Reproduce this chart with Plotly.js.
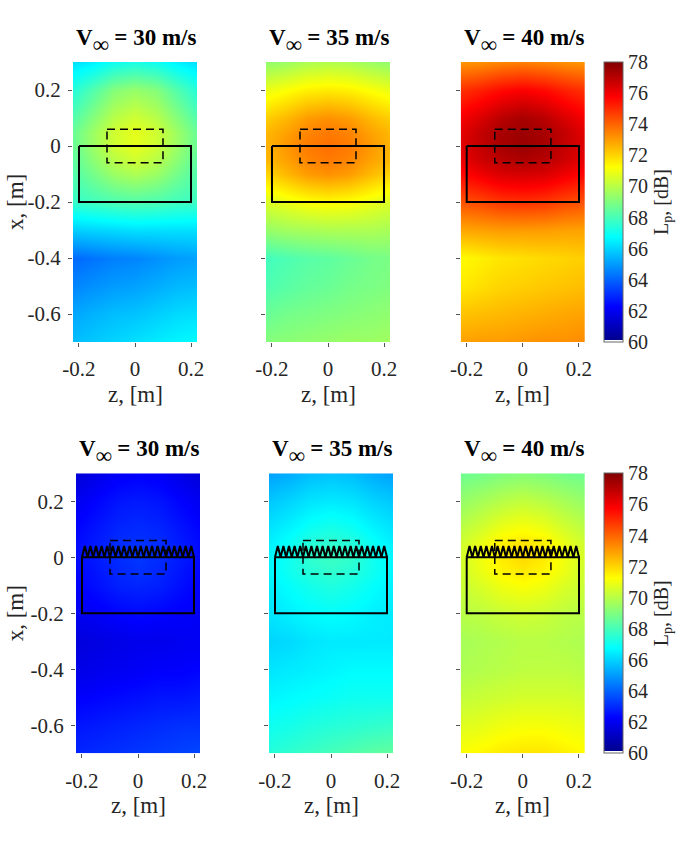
<!DOCTYPE html>
<html>
<head>
<meta charset="utf-8">
<script src="https://cdn.plot.ly/plotly-3.0.1.min.js"></script>
<style>html,body{margin:0;padding:0;background:#fff;}#chart{width:685px;height:841px;}</style>
</head>
<body>
<div id="chart"></div>
<script>
// ---------------- data ----------------
const speeds = ['30', '35', '40'];
const zCoords = [-0.22, -0.15, -0.075, 0, 0.075, 0.15, 0.22];                          // spanwise z [m]
const xCoords = [0.3, 0.2, 0.1, 0.05, 0, -0.05, -0.1, -0.2, -0.3, -0.4, -0.5, -0.6, -0.7]; // streamwise x [m]

const Lp_straight_30 = [
  [66.2, 66.5, 67.0, 67.2, 67.0, 66.5, 66.2],
  [67.4, 68.2, 69.1, 69.4, 69.1, 68.2, 67.4],
  [68.2, 69.1, 70.0, 70.4, 70.0, 69.1, 68.2],
  [68.6, 69.5, 70.4, 70.8, 70.4, 69.5, 68.6],
  [68.6, 69.5, 70.4, 70.8, 70.4, 69.5, 68.6],
  [68.4, 69.2, 70.0, 70.4, 70.0, 69.2, 68.4],
  [68.2, 68.8, 69.5, 69.8, 69.5, 68.8, 68.2],
  [67.7, 67.9, 68.1, 68.2, 68.1, 67.9, 67.8],
  [65.9, 66.0, 66.1, 66.2, 66.2, 66.2, 66.2],
  [64.1, 64.3, 64.5, 64.6, 64.8, 65.0, 65.1],
  [64.6, 64.8, 65.0, 65.1, 65.3, 65.5, 65.6],
  [65.2, 65.4, 65.6, 65.7, 65.9, 66.1, 66.2],
  [65.6, 65.8, 66.0, 66.2, 66.4, 66.6, 66.7]
];
const Lp_straight_35 = [
  [69.3, 69.5, 69.8, 69.9, 69.8, 69.5, 69.3],
  [70.9, 71.2, 71.5, 71.6, 71.5, 71.2, 70.9],
  [72.1, 72.5, 73.0, 73.2, 73.0, 72.5, 72.1],
  [72.5, 72.9, 73.4, 73.6, 73.4, 72.9, 72.5],
  [72.6, 73.1, 73.6, 73.8, 73.6, 73.1, 72.6],
  [72.5, 72.9, 73.4, 73.6, 73.4, 72.9, 72.5],
  [72.0, 72.5, 73.0, 73.2, 73.0, 72.5, 72.0],
  [70.6, 70.9, 71.2, 71.3, 71.2, 70.9, 70.6],
  [69.4, 69.6, 69.7, 69.8, 69.8, 69.8, 69.7],
  [67.9, 68.1, 68.3, 68.4, 68.6, 68.8, 68.9],
  [68.1, 68.3, 68.5, 68.6, 68.8, 68.9, 69.0],
  [68.6, 68.8, 68.9, 69.0, 69.1, 69.2, 69.3],
  [69.1, 69.2, 69.3, 69.4, 69.5, 69.5, 69.6]
];
const Lp_straight_40 = [
  [73.1, 73.2, 73.4, 73.5, 73.4, 73.2, 73.1],
  [74.9, 75.2, 75.6, 75.8, 75.6, 75.2, 74.9],
  [75.9, 76.4, 77.0, 77.3, 77.0, 76.4, 75.9],
  [76.2, 76.8, 77.3, 77.5, 77.3, 76.8, 76.2],
  [76.3, 76.8, 77.3, 77.5, 77.3, 76.8, 76.3],
  [76.1, 76.6, 77.0, 77.2, 77.0, 76.6, 76.1],
  [75.6, 76.0, 76.4, 76.5, 76.4, 76.0, 75.6],
  [74.3, 74.5, 74.8, 74.9, 74.8, 74.5, 74.3],
  [72.8, 72.9, 73.0, 73.0, 73.0, 72.9, 72.9],
  [71.3, 71.5, 71.7, 71.8, 71.9, 72.0, 72.1],
  [71.6, 71.8, 72.0, 72.1, 72.2, 72.3, 72.4],
  [72.3, 72.4, 72.5, 72.6, 72.7, 72.8, 72.9],
  [72.9, 73.0, 73.0, 73.1, 73.2, 73.2, 73.3]
];
const Lp_serrated_30 = [
  [61.5, 61.8, 62.1, 62.2, 62.1, 61.8, 61.5],
  [62.0, 62.3, 62.6, 62.7, 62.6, 62.3, 62.0],
  [62.3, 62.6, 62.9, 63.0, 62.9, 62.6, 62.3],
  [62.4, 62.7, 63.0, 63.1, 63.0, 62.7, 62.4],
  [62.4, 62.7, 63.0, 63.2, 63.0, 62.7, 62.4],
  [62.3, 62.6, 62.9, 63.1, 62.9, 62.6, 62.3],
  [62.2, 62.5, 62.8, 62.9, 62.8, 62.5, 62.2],
  [62.0, 62.1, 62.3, 62.4, 62.3, 62.2, 62.1],
  [61.6, 61.7, 61.8, 61.9, 61.9, 62.0, 62.0],
  [61.8, 61.9, 62.0, 62.1, 62.2, 62.2, 62.3],
  [62.2, 62.3, 62.4, 62.5, 62.6, 62.6, 62.7],
  [62.6, 62.7, 62.8, 62.9, 63.0, 63.1, 63.1],
  [62.9, 63.0, 63.1, 63.2, 63.3, 63.4, 63.5]
];
const Lp_serrated_35 = [
  [65.1, 65.3, 65.6, 65.7, 65.6, 65.3, 65.1],
  [65.8, 66.0, 66.3, 66.4, 66.3, 66.0, 65.8],
  [66.3, 66.6, 67.0, 67.2, 67.0, 66.6, 66.3],
  [66.5, 66.9, 67.4, 67.6, 67.4, 66.9, 66.5],
  [66.6, 67.0, 67.6, 67.8, 67.6, 67.0, 66.6],
  [66.6, 67.0, 67.4, 67.6, 67.4, 67.0, 66.6],
  [66.5, 66.8, 67.1, 67.3, 67.1, 66.8, 66.5],
  [66.3, 66.5, 66.7, 66.8, 66.7, 66.5, 66.4],
  [66.0, 66.1, 66.3, 66.4, 66.4, 66.4, 66.4],
  [66.3, 66.4, 66.5, 66.6, 66.7, 66.7, 66.7],
  [66.6, 66.7, 66.8, 66.9, 67.0, 67.0, 67.0],
  [67.0, 67.1, 67.3, 67.4, 67.5, 67.6, 67.7],
  [67.4, 67.6, 67.8, 68.0, 68.2, 68.4, 68.5]
];
const Lp_serrated_40 = [
  [68.7, 68.8, 69.0, 69.1, 69.0, 68.8, 68.7],
  [69.4, 69.7, 70.0, 70.2, 70.0, 69.7, 69.4],
  [70.1, 70.5, 71.0, 71.2, 71.0, 70.5, 70.1],
  [70.4, 70.9, 71.5, 71.7, 71.5, 70.9, 70.4],
  [70.5, 71.0, 71.6, 71.9, 71.6, 71.0, 70.5],
  [70.4, 70.9, 71.4, 71.6, 71.4, 70.9, 70.4],
  [70.3, 70.6, 71.0, 71.2, 71.0, 70.6, 70.3],
  [70.0, 70.1, 70.3, 70.4, 70.3, 70.1, 70.0],
  [69.7, 69.8, 69.9, 70.0, 70.0, 69.9, 69.8],
  [69.8, 69.9, 70.0, 70.1, 70.1, 70.1, 70.0],
  [70.2, 70.3, 70.4, 70.5, 70.5, 70.5, 70.4],
  [70.7, 70.8, 71.0, 71.1, 71.1, 71.0, 70.9],
  [71.2, 71.4, 71.6, 71.7, 71.7, 71.5, 71.3]
];

// geometry of the overlays
const bladeZ = [-0.2, 0.2];
const bladeX = [-0.2, 0];
const windowZ = [-0.1, 0.1];
const windowX = [-0.06, 0.06];
const toothCount = 20;
const toothHeight = 0.04;

// tick labels
const xTickVals = [-0.2, 0, 0.2];
const xTickText = ['-0.2', '0', '0.2'];
const yTickVals = [0.2, 0, -0.2, -0.4, -0.6];
const yTickText = ['0.2', '0', '-0.2', '-0.4', '-0.6'];
const cbTickVals = [60, 62, 64, 66, 68, 70, 72, 74, 76, 78];

// ---------------- styling / layout ----------------
const W = 685, H = 841;
const FONT = 'Liberation Serif, Times New Roman, serif';
const jet = [[0, '#ffffff'], [0.008, '#ffffff'], [0.008, '#00008f'], [0.125, '#0000ff'],
             [0.375, '#00ffff'], [0.625, '#ffff00'], [0.875, '#ff0000'], [1, '#800000']];

const panels = [
  {data: Lp_straight_30, sp: 0, row: 0, px: [73, 197]},
  {data: Lp_straight_35, sp: 1, row: 0, px: [266, 390]},
  {data: Lp_straight_40, sp: 2, row: 0, px: [460.7, 585]},
  {data: Lp_serrated_30, sp: 0, row: 1, px: [76, 200]},
  {data: Lp_serrated_35, sp: 1, row: 1, px: [269, 393]},
  {data: Lp_serrated_40, sp: 2, row: 1, px: [460.7, 585]}
];
const rowPy = [[62, 342], [473.3, 753.3]];

const dx = p => p / W;
const dy = p => 1 - p / H;

const traces = [];
const layout = {
  width: W, height: H,
  margin: {l: 0, r: 0, t: 0, b: 0},
  paper_bgcolor: '#fff', plot_bgcolor: '#fff',
  showlegend: false,
  font: {family: FONT, color: '#262626'},
  annotations: []
};

const bladePolyZ = [bladeZ[0], bladeZ[1], bladeZ[1], bladeZ[0], bladeZ[0]];
const bladePolyX = [bladeX[1], bladeX[1], bladeX[0], bladeX[0], bladeX[1]];
const winPolyZ = [windowZ[0], windowZ[1], windowZ[1], windowZ[0], windowZ[0]];
const winPolyX = [windowX[1], windowX[1], windowX[0], windowX[0], windowX[1]];
const serrZ = [], serrX = [];
const step = (bladeZ[1] - bladeZ[0]) / (2 * toothCount);
for (let k = 0; k <= 2 * toothCount; k++) {
  serrZ.push(bladeZ[0] + k * step);
  serrX.push(bladeX[1] + (k % 2 ? toothHeight : 0));
}

panels.forEach((p, i) => {
  const n = i + 1;
  const xa = n === 1 ? 'x' : 'x' + n;
  const ya = n === 1 ? 'y' : 'y' + n;
  const py = rowPy[p.row];
  const leftCol = (i % 3) === 0;

  traces.push({
    type: 'heatmap', x: zCoords, y: xCoords, z: p.data,
    zsmooth: 'best', xaxis: xa, yaxis: ya,
    coloraxis: p.row === 0 ? 'coloraxis' : 'coloraxis2',
    hoverinfo: 'skip'
  });
  traces.push({
    type: 'scatter', mode: 'lines', x: winPolyZ, y: winPolyX, xaxis: xa, yaxis: ya,
    line: {color: '#000', width: 1.5, dash: '8px,5px'}, hoverinfo: 'skip'
  });
  traces.push({
    type: 'scatter', mode: 'lines', x: bladePolyZ, y: bladePolyX, xaxis: xa, yaxis: ya,
    line: {color: '#000', width: 2}, hoverinfo: 'skip'
  });
  if (p.row === 1) {
    traces.push({
      type: 'scatter', mode: 'lines', x: serrZ, y: serrX, xaxis: xa, yaxis: ya,
      line: {color: '#000', width: 2}, hoverinfo: 'skip'
    });
  }

  const axCommon = {
    showgrid: false, zeroline: false, showline: false,
    ticks: 'outside', ticklen: 4, tickwidth: 1, tickcolor: '#555',
    tickfont: {family: FONT, size: 21, color: '#262626'}, fixedrange: true
  };
  layout['xaxis' + (n === 1 ? '' : n)] = Object.assign({}, axCommon, {
    domain: [dx(p.px[0]), dx(p.px[1])], anchor: ya,
    range: [-0.2214, 0.2214], tickvals: xTickVals, ticktext: xTickText,
    ticklabelstandoff: 4
  });
  layout['yaxis' + (n === 1 ? '' : n)] = Object.assign({}, axCommon, {
    domain: [dy(py[1]), dy(py[0])], anchor: xa,
    range: [-0.7, 0.3], tickvals: yTickVals, ticktext: yTickText,
    showticklabels: leftCol, ticklabelstandoff: 3
  });

  // panel title
  layout.annotations.push({
    xref: 'paper', yref: 'paper',
    x: dx((p.px[0] + p.px[1]) / 2 + 1), y: dy(py[0] - 3), xanchor: 'center', yanchor: 'bottom',
    showarrow: false,
    text: '<b>V<span style="font-size:32px"><sub>∞</sub></span> = ' + speeds[p.sp] + ' m/s</b>',
    font: {family: FONT, size: 23, color: '#000'}
  });
  // x-axis label
  layout.annotations.push({
    xref: 'paper', yref: 'paper',
    x: dx((p.px[0] + p.px[1]) / 2), y: dy(py[1] + 52), xanchor: 'center', yanchor: 'middle',
    showarrow: false, text: 'z, [m]',
    font: {family: FONT, size: 23, color: '#262626'}
  });
  if (leftCol) {
    layout.annotations.push({
      xref: 'paper', yref: 'paper',
      x: dx(15), y: dy((py[0] + py[1]) / 2), xanchor: 'center', yanchor: 'middle',
      showarrow: false, text: 'x, [m]', textangle: -90,
      font: {family: FONT, size: 23, color: '#262626'}
    });
  }
});

function cax(py) {
  return {
    cmin: 60, cmax: 78, colorscale: jet,
    colorbar: {
      x: dx(604), xanchor: 'left', thickness: 18.7, thicknessmode: 'pixels',
      y: dy((py[0] + py[1]) / 2), yanchor: 'middle', len: (py[1] - py[0]) / H, lenmode: 'fraction',
      outlinewidth: 1, outlinecolor: '#666',
      tickvals: cbTickVals, ticks: '', xpad: 0, ypad: 0,
      tickfont: {family: FONT, size: 20, color: '#262626'},
      title: {text: 'L<sub>p</sub>, [dB]', side: 'right', font: {family: FONT, size: 20, color: '#262626'}}
    }
  };
}
layout.coloraxis = cax(rowPy[0]);
layout.coloraxis2 = cax(rowPy[1]);

Plotly.newPlot('chart', traces, layout, {staticPlot: true, displayModeBar: false});
</script>
</body>
</html>
